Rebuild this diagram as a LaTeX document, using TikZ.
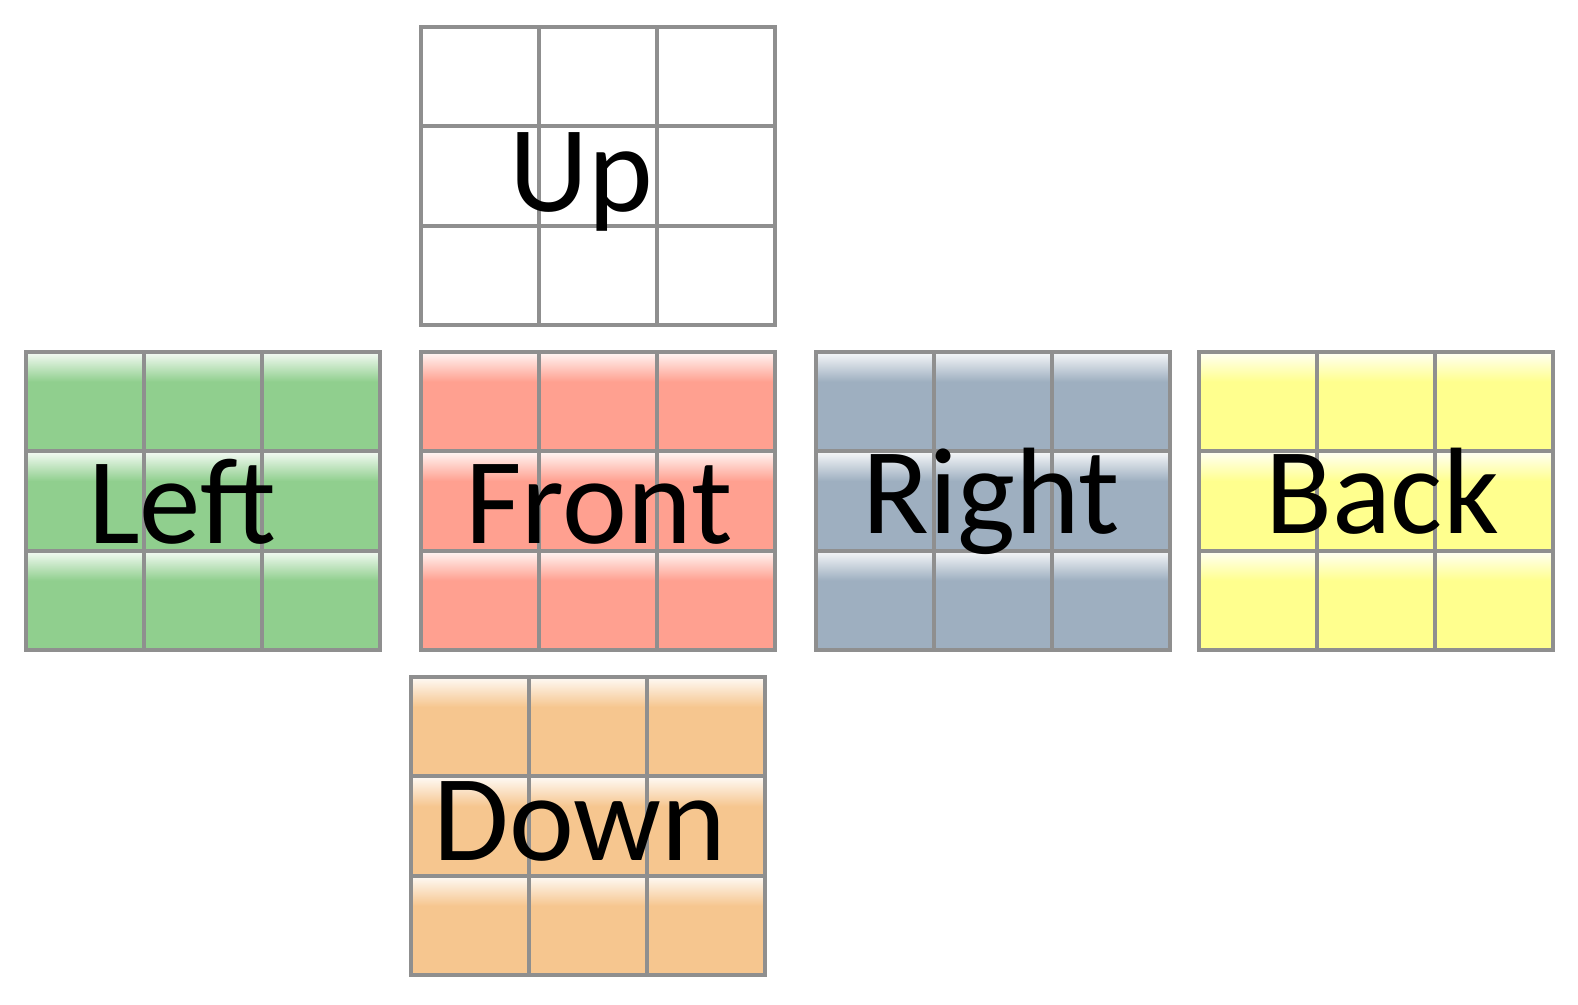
\documentclass[tikz,border=0pt]{standalone}
\usepackage{fontspec}
\setmainfont{Carlito}

\definecolor{gridgray}{HTML}{8F8F8F}
\definecolor{upwhite}{HTML}{FFFFFF}
\definecolor{leftgreen}{HTML}{90CF8E}
\definecolor{frontred}{HTML}{FFA090}
\definecolor{rightblue}{HTML}{9EAFC0}
\definecolor{backyellow}{HTML}{FFFF8E}
\definecolor{downorange}{HTML}{F6C68F}

\tikzset{
  facegrid/.style={gridgray, line width=4, line join=miter},
  facelabel/.style={anchor=base, inner sep=0, font=\fontsize{123}{123}\selectfont}
}

% top-left x, top-left y, colour
\newcommand{\cubeface}[3]{%
  \foreach \i in {0,1,2} {
    \foreach \j in {0,1,2} {
      \fill[#3] (#1+\i*118, #2+\j*99.4) rectangle ++(118, 99.4);
      \shade[top color=#3!8, bottom color=#3] (#1+\i*118, #2+\j*99.4) rectangle ++(118, 30);
    }
  }
  \foreach \k in {1,2} {
    \draw[facegrid] (#1+\k*118, #2) -- ++(0, 298.2);
    \draw[facegrid] (#1, #2+\k*99.4) -- ++(354, 0);
  }
  \draw[facegrid] (#1, #2) rectangle ++(354, 298.2);
}

\begin{document}
\begin{tikzpicture}[x=1pt, y=-1pt]
    \useasboundingbox (0,0) rectangle (1578,1004);

    % Faces
    \cubeface{420.5}{26.7}{upwhite}
    \cubeface{25.5}{351.7}{leftgreen}
    \cubeface{420.5}{351.7}{frontred}
    \cubeface{815.7}{351.7}{rightblue}
    \cubeface{1199.3}{351.7}{backyellow}
    \cubeface{411.3}{677}{downorange}

    % Labels
    \node[facelabel] (up) at (581, 211) {Up};
    \node[facelabel] (left) at (182, 543) {Left};
    \node[facelabel] (front) at (599, 543) {Front};
    \node[facelabel] (right) at (991, 533.5) {Right};
    \node[facelabel] (back) at (1382, 533.5) {Back};
    \node[facelabel] (down) at (580, 860.5) {Down};
\end{tikzpicture}
\end{document}
